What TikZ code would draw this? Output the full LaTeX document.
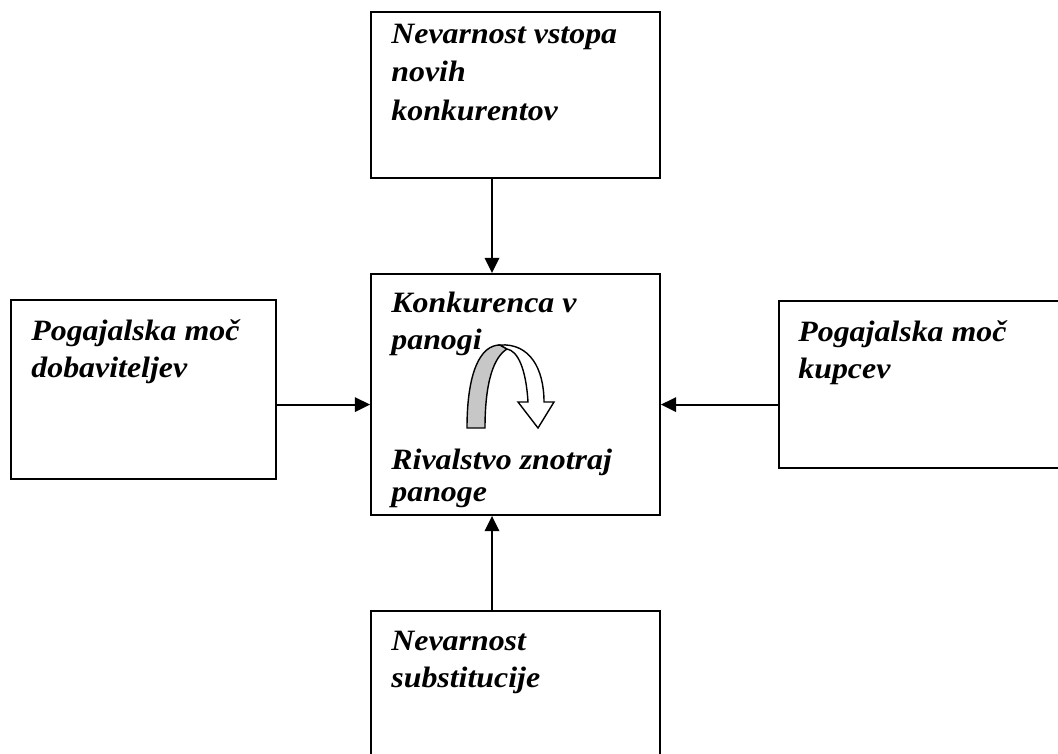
\documentclass[tikz,border=0pt]{standalone}
\usepackage{fontspec}
\setmainfont{Liberation Serif}[FakeStretch=1.08]
\usetikzlibrary{arrows.meta,positioning}

\begin{document}
\begin{tikzpicture}
\tikzstyle{boxstyle}=[draw, rectangle, line width=1.3pt, inner sep=0pt]
\tikzstyle{textstyle}=[inner sep=0pt, align=left, font=\bfseries\itshape\fontsize{21}{26.3}\selectfont]
    \clip (0,0) rectangle (26.45,18.825);
    \node[boxstyle, minimum width=7.225cm, minimum height=4.15cm] (ent) at (12.8875,16.45) {};
    \node[boxstyle, minimum width=7.225cm, minimum height=6.025cm] (riv) at (12.8875,8.9625) {};
    \node[boxstyle, minimum width=6.625cm, minimum height=4.475cm] (sup) at (3.5875,9.0875) {};
    \node[boxstyle, minimum width=8.025cm, minimum height=4.175cm] (buy) at (23.4875,9.2125) {};
    \node[boxstyle, minimum width=7.225cm, minimum height=4.55cm] (sub) at (12.8875,1.275) {};
    \node[textstyle, font=\bfseries\itshape\fontsize{21}{27.3}\selectfont, below right=0.32cm and 0.525cm of ent.north west] (enttxt) {Nevarnost vstopa\\novih\\konkurentov};
    \node[textstyle, below right=0.47cm and 0.525cm of riv.north west] (rivtxt) {Konkurenca v\\panogi};
    \node[textstyle, font=\bfseries\itshape\fontsize{21}{22.5}\selectfont, below right=4.4cm and 0.525cm of riv.north west] (rivtxt2) {Rivalstvo znotraj\\panoge};
    \node[textstyle, below right=0.52cm and 0.525cm of sup.north west] (suptxt) {Pogajalska moč\\dobaviteljev};
    \node[textstyle, below right=0.52cm and 0.5cm of buy.north west] (buytxt) {Pogajalska moč\\kupcev};
    \node[textstyle, below right=0.52cm and 0.525cm of sub.north west] (subtxt) {Nevarnost\\substitucije};
    \coordinate (ax) at (12.3,0);
    \coordinate (ay) at (0,8.71);
    \draw [line width=1.5pt, -{Triangle[length=3.8mm,width=3.6mm]}] (ent.south -| ax) -- (riv.north -| ax);
    \draw [line width=1.5pt, -{Triangle[length=3.8mm,width=3.6mm]}] (sub.north -| ax) -- (riv.south -| ax);
    \draw [line width=1.5pt, -{Triangle[length=3.8mm,width=3.6mm]}] (sup.east |- ay) -- (riv.west |- ay);
    \draw [line width=1.5pt, -{Triangle[length=3.8mm,width=3.6mm]}] (buy.west |- ay) -- (riv.east |- ay);
    % turning ribbon arrow
    \draw [line width=1pt, fill=black!22] (11.675,8.125) .. controls (11.675,9.5) and (12.0,10.2) .. (12.5,10.2)
        -- (12.675,10.1) .. controls (12.35,9.9) and (12.125,9.3) .. (12.125,8.125) -- cycle;
    \draw [line width=1pt, fill=white] (12.5,10.2) .. controls (13.25,10.25) and (13.6,9.6) .. (13.6,8.775)
        -- (13.85,8.775) -- (13.45,8.125) -- (12.95,8.775) -- (13.2,8.775)
        .. controls (13.15,9.6) and (12.95,10.05) .. (12.675,10.1) -- cycle;
\end{tikzpicture}
\end{document}
